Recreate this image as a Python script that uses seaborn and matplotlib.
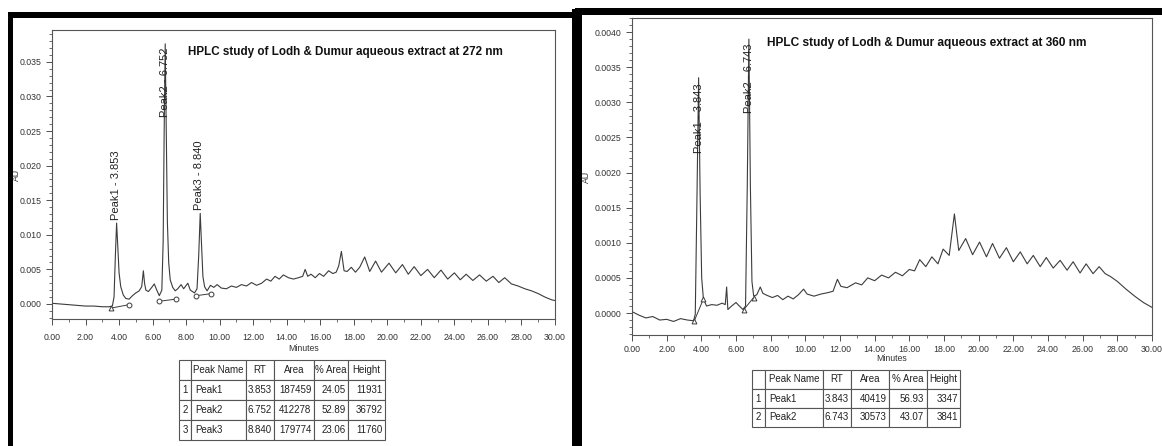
import matplotlib
matplotlib.use("Agg")
import matplotlib.pyplot as plt
import seaborn as sns
from matplotlib.patches import Rectangle
from matplotlib.ticker import MultipleLocator, FormatStrFormatter

# ---------------- data : 272 nm ----------------
t_272 = [0.0, 0.5, 1.0, 1.5, 2.0, 2.5, 3.0, 3.4, 3.6, 3.7, 3.78, 3.853, 3.93, 4.0, 4.1, 4.25, 4.4, 4.6,
         4.8, 5.0, 5.2, 5.35, 5.45, 5.52, 5.6, 5.75, 5.95, 6.1, 6.25, 6.4, 6.55, 6.63, 6.69, 6.752, 6.81,
         6.88, 6.96, 7.05, 7.2, 7.35, 7.5, 7.7, 7.85, 8.1, 8.25, 8.5, 8.65, 8.75, 8.84, 8.92, 9.0, 9.1,
         9.25, 9.45, 9.65, 9.85, 10.1, 10.4, 10.7, 11.0, 11.3, 11.6, 11.9, 12.2, 12.5, 12.8, 13.05, 13.3,
         13.55, 13.8, 14.1, 14.4, 14.7, 14.95, 15.1, 15.25, 15.45, 15.7, 15.95, 16.2, 16.5, 16.75, 16.95,
         17.1, 17.26, 17.42, 17.6, 17.85, 18.1, 18.35, 18.65, 18.95, 19.3, 19.65, 20.1, 20.5, 20.9, 21.25,
         21.6, 22.0, 22.4, 22.8, 23.2, 23.6, 24.0, 24.35, 24.7, 25.1, 25.5, 25.9, 26.3, 26.65, 27.0, 27.4,
         27.8, 28.2, 28.6, 29.0, 29.4, 29.8, 30.0]
au_272 = [0.0001, 0.0000, -0.0001, -0.0002, -0.0003, -0.0003, -0.0004, -0.0004, -0.0003, 0.0010, 0.0070,
          0.0117, 0.0080, 0.0045, 0.0025, 0.0013, 0.0008, 0.0007, 0.0012, 0.0016, 0.0019, 0.0025, 0.0048,
          0.0030, 0.0020, 0.0018, 0.0024, 0.0029, 0.0020, 0.0012, 0.0020, 0.0090, 0.0250, 0.0376, 0.0260,
          0.0120, 0.0060, 0.0035, 0.0024, 0.0019, 0.0022, 0.0028, 0.0022, 0.0030, 0.0020, 0.0016, 0.0022,
          0.0070, 0.0131, 0.0085, 0.0040, 0.0025, 0.0019, 0.0027, 0.0024, 0.0028, 0.0023, 0.0022, 0.0026,
          0.0024, 0.0028, 0.0026, 0.0031, 0.0027, 0.0030, 0.0036, 0.0033, 0.0040, 0.0036, 0.0042, 0.0038,
          0.0036, 0.0038, 0.0040, 0.0050, 0.0040, 0.0043, 0.0038, 0.0044, 0.0040, 0.0048, 0.0044, 0.0046,
          0.0055, 0.0076, 0.0048, 0.0047, 0.0053, 0.0046, 0.0053, 0.0068, 0.0047, 0.0062, 0.0046, 0.0059,
          0.0045, 0.0057, 0.0043, 0.0054, 0.0041, 0.0050, 0.0038, 0.0049, 0.0036, 0.0045, 0.0035, 0.0043,
          0.0034, 0.0042, 0.0033, 0.0040, 0.0031, 0.0038, 0.0029, 0.0026, 0.0022, 0.0019, 0.0015, 0.0010,
          0.0006, 0.0005]
base_272_t = [[3.5, 4.6], [6.4, 7.4], [8.6, 9.5]]
base_272_v = [[-0.0006, -0.0001], [0.0004, 0.0007], [0.0012, 0.0015]]
labels_272 = ["Peak1 - 3.853", "Peak2 - 6.752", "Peak3 - 8.840"]
label_272_t = [3.80, 6.752, 8.79]
label_272_v = [0.0121, 0.0270, 0.0136]

# ---------------- data : 360 nm ----------------
t_360 = [0.0, 0.4, 0.8, 1.2, 1.6, 2.0, 2.4, 2.8, 3.2, 3.55, 3.65, 3.74, 3.843, 3.93, 4.02, 4.12, 4.3, 4.6,
         4.9, 5.2, 5.38, 5.46, 5.53, 5.75, 6.0, 6.15, 6.4, 6.55, 6.65, 6.743, 6.83, 6.92, 7.02, 7.2, 7.4,
         7.55, 7.8, 8.1, 8.4, 8.7, 9.0, 9.3, 9.6, 9.9, 10.1, 10.5, 10.9, 11.3, 11.6, 11.85, 12.05, 12.4,
         12.9, 13.25, 13.6, 14.0, 14.4, 14.8, 15.2, 15.6, 16.0, 16.3, 16.6, 16.95, 17.3, 17.65, 17.95, 18.3,
         18.6, 18.85, 19.25, 19.65, 20.05, 20.45, 20.8, 21.2, 21.6, 22.0, 22.4, 22.8, 23.15, 23.55, 23.9,
         24.3, 24.7, 25.1, 25.45, 25.85, 26.2, 26.6, 26.95, 27.3, 27.6, 28.0, 28.5, 29.0, 29.5, 30.0]
au_360 = [0.00002, -0.00003, -0.00007, -0.00005, -0.00010, -0.00009, -0.00012, -0.00008, -0.00010,
          -0.00011, -0.00002, 0.00150, 0.00335, 0.00170, 0.00050, 0.00020, 0.00010, 0.00012, 0.00011,
          0.00014, 0.00012, 0.00037, 0.00005, 0.00010, 0.00015, 0.00011, 0.00005, 0.00010, 0.00180,
          0.00390, 0.00180, 0.00045, 0.00024, 0.00026, 0.00037, 0.00028, 0.00025, 0.00022, 0.00025,
          0.00019, 0.00024, 0.00020, 0.00026, 0.00034, 0.00027, 0.00024, 0.00027, 0.00029, 0.00031,
          0.00048, 0.00038, 0.00036, 0.00043, 0.00040, 0.00050, 0.00046, 0.00054, 0.00050, 0.00058,
          0.00053, 0.00062, 0.00060, 0.00076, 0.00066, 0.00080, 0.00070, 0.00091, 0.00082, 0.00141,
          0.00089, 0.00106, 0.00083, 0.00101, 0.00080, 0.00099, 0.00078, 0.00093, 0.00073, 0.00087,
          0.00070, 0.00082, 0.00066, 0.00079, 0.00064, 0.00075, 0.00061, 0.00073, 0.00057, 0.00070,
          0.00056, 0.00066, 0.00056, 0.00052, 0.00045, 0.00034, 0.00024, 0.00015, 0.00008]
base_360_t = [[3.58, 4.12], [6.45, 7.02]]
base_360_v = [[-0.00012, 0.00020], [0.00005, 0.00022]]
labels_360 = ["Peak1 - 3.843", "Peak2 - 6.743"]
label_360_t = [3.843, 6.743]
label_360_v = [0.00228, 0.00285]

# ---------------- tables ----------------
col_names = ["", "Peak Name", "RT", "Area", "% Area", "Height"]
peak_272 = ["Peak1", "Peak2", "Peak3"]
rt_272 = ["3.853", "6.752", "8.840"]
area_272 = ["187459", "412278", "179774"]
pct_272 = ["24.05", "52.89", "23.06"]
height_272 = ["11931", "36792", "11760"]

peak_360 = ["Peak1", "Peak2"]
rt_360 = ["3.843", "6.743"]
area_360 = ["40419", "30573"]
pct_360 = ["56.93", "43.07"]
height_360 = ["3347", "3841"]

titles = ["HPLC study of Lodh & Dumur aqueous extract at 272 nm",
          "HPLC study of Lodh & Dumur aqueous extract at 360 nm"]

# ---------------- figure ----------------
sns.set_style("ticks")
plt.rcParams['font.family'] = ['Liberation Sans', 'DejaVu Sans']

W, H = 1162, 446
fig = plt.figure(figsize=(W / 100, H / 100), dpi=100)
fig.patch.set_facecolor("white")


def rect(x0, y0, x1, y1):
    return [x0 / W, 1 - y1 / H, (x1 - x0) / W, (y1 - y0) / H]


def bar(x0, y0, x1, y1):
    fig.add_artist(Rectangle((x0 / W, 1 - y1 / H), (x1 - x0) / W, (y1 - y0) / H,
                             transform=fig.transFigure, color="black", lw=0, zorder=20))


# black panel borders
bar(8, 12, 577, 18)
bar(8, 12, 13, 446)
bar(572, 9, 582, 446)
bar(575, 8, 1162, 15)

ax1 = fig.add_axes(rect(52, 30, 555, 319))
ax2 = fig.add_axes(rect(632, 18, 1152, 335))

line_c = "#3c3c3c"
sns.lineplot(x=t_272, y=au_272, ax=ax1, color=line_c, linewidth=0.8)
sns.lineplot(x=t_360, y=au_360, ax=ax2, color=line_c, linewidth=0.8)

# baselines with markers
for i, (bt, bv) in enumerate(zip(base_272_t, base_272_v)):
    ax1.plot(bt, bv, color=line_c, lw=0.7)
    ax1.plot(bt[0], bv[0], marker="^" if i == 0 else "o", ms=3.5, mfc="white", mec=line_c, mew=0.7)
    ax1.plot(bt[1], bv[1], marker="o", ms=3.5, mfc="white", mec=line_c, mew=0.7)
for bt, bv in zip(base_360_t, base_360_v):
    ax2.plot(bt, bv, color=line_c, lw=0.7)
    ax2.plot(bt, bv, ls="none", marker="^", ms=3.5, mfc="white", mec=line_c, mew=0.7)

# peak labels
for lab, lt, lv in zip(labels_272, label_272_t, label_272_v):
    ax1.text(lt, lv, lab, rotation=90, ha="center", va="bottom", fontsize=8, color="#222")
for lab, lt, lv in zip(labels_360, label_360_t, label_360_v):
    ax2.text(lt, lv, lab, rotation=90, ha="center", va="bottom", fontsize=8, color="#222")

# axes styling
specs = [
    (ax1, (-0.00217, 0.0396), 0.005, 0.001, "%.3f", titles[0], (0.27, 0.924), (-0.062, 0.5), -0.087, 6, 8.4),
    (ax2, (-0.000313, 0.0042), 0.0005, 0.0001, "%.4f", titles[1], (0.26, 0.921), (-0.079, 0.5), -0.06, 3, 8.6),
]
for ax, ylim, ymaj, ymin, yfmt, title, tpos, ylpos, xly, xpad, tfs in specs:
    ax.set_xlim(0, 30)
    ax.set_ylim(*ylim)
    ax.xaxis.set_major_locator(MultipleLocator(2))
    ax.xaxis.set_minor_locator(MultipleLocator(1))
    ax.xaxis.set_major_formatter(FormatStrFormatter("%.2f"))
    ax.yaxis.set_major_locator(MultipleLocator(ymaj))
    ax.yaxis.set_minor_locator(MultipleLocator(ymin))
    ax.yaxis.set_major_formatter(FormatStrFormatter(yfmt))
    ax.tick_params(which="major", direction="out", length=4, width=0.6, colors="#333",
                   labelsize=6.3, labelcolor="#333")
    ax.tick_params(axis="x", which="major", pad=xpad)
    ax.tick_params(which="minor", direction="out", length=2.5, width=0.5, colors="#333")
    for s in ax.spines.values():
        s.set_visible(True)
        s.set_color("#555")
        s.set_linewidth(0.8)
    ax.set_xlabel("Minutes", fontsize=6.3, color="#333")
    ax.xaxis.set_label_coords(0.5, xly)
    ax.set_ylabel("AU", fontsize=6.3, color="#333")
    ax.yaxis.set_label_coords(*ylpos)
    ax.text(tpos[0], tpos[1], title, transform=ax.transAxes, fontsize=tfs, fontweight="bold",
            ha="left", va="center", color="#111")
    ax.set_facecolor("white")


def draw_table(box, names, rts, areas, pcts, heights, widths):
    tax = fig.add_axes(rect(*box))
    tax.axis("off")
    rows = [[str(i + 1), n, r, a, p, h] for i, (n, r, a, p, h) in
            enumerate(zip(names, rts, areas, pcts, heights))]
    tot = float(sum(widths))
    tb = tax.table(cellText=rows, colLabels=col_names, bbox=[0, 0, 1, 1],
                   colWidths=[w / tot for w in widths], cellLoc="right")
    tb.auto_set_font_size(False)
    tb.set_fontsize(7)
    for (r, c), cell in tb.get_celld().items():
        cell.set_edgecolor("#555")
        cell.set_linewidth(0.8)
        cell.PAD = 0.07
        txt = cell.get_text()
        if r == 0 or c == 0:
            txt.set_horizontalalignment("center")
        elif c == 1:
            txt.set_horizontalalignment("left")
        else:
            txt.set_horizontalalignment("right")
        txt.set_color("#222")


draw_table((179, 360, 385, 440), peak_272, rt_272, area_272, pct_272, height_272,
           [12, 55, 28, 40, 34, 37])
draw_table((752, 370, 960, 427), peak_360, rt_360, area_360, pct_360, height_360,
           [13, 58, 28, 38, 38, 33])

fig.savefig("out.png", dpi=100, facecolor="white")
